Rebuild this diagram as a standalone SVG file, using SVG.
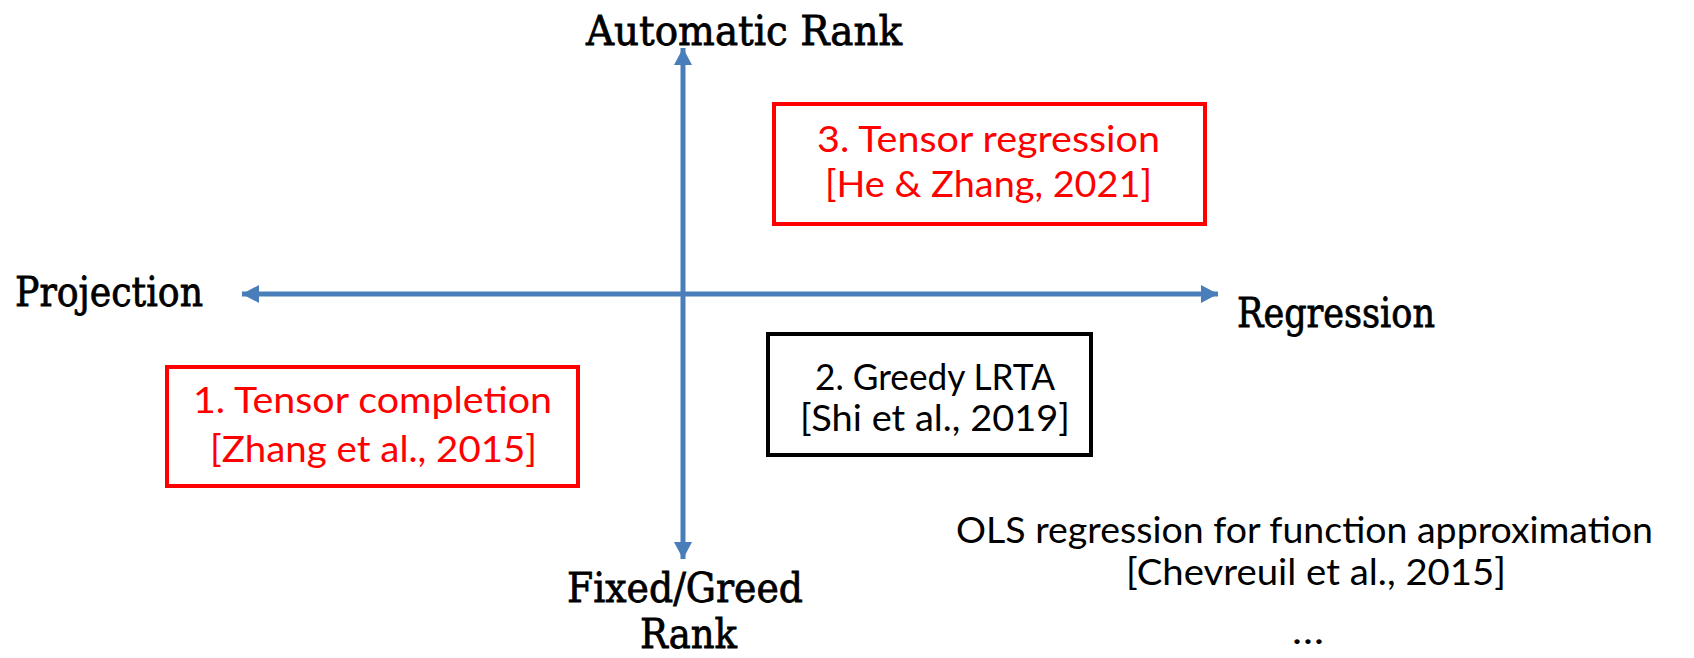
<svg xmlns="http://www.w3.org/2000/svg" width="1694" height="658" viewBox="0 0 1694 658">
  <style>
    .axis-label { font-family: "DejaVu Serif", "Liberation Serif", serif; font-size: 41px; fill: #000; stroke: #000; stroke-width: 0.8; text-anchor: middle; }
    .body { font-family: Lato, "Open Sans", "Liberation Sans", sans-serif; font-size: 37px; text-anchor: middle; }
    .red { fill: #FF0000; }
    .black { fill: #000; }
    .box { fill: none; stroke-width: 4; }
    .box-red { stroke: #FF0000; }
    .box-black { stroke: #000; }
    .axis { stroke: #4A7EBB; stroke-width: 5; fill: none; }
  </style>
  <defs>
    <marker id="head" markerUnits="userSpaceOnUse" markerWidth="17" markerHeight="18" refX="17" refY="9" orient="auto-start-reverse">
      <path d="M0,0 L17,9 L0,18 Z" fill="#4A7EBB"/>
    </marker>
  </defs>
  <rect width="1694" height="658" fill="#fff"/>

  <!-- axes -->
  <g id="connectors">
    <line class="axis" x1="242" y1="294" x2="1218" y2="294" marker-start="url(#head)" marker-end="url(#head)"/>
    <line class="axis" x1="683" y1="48" x2="683" y2="559" marker-start="url(#head)" marker-end="url(#head)"/>
  </g>

  <!-- axis end labels -->
  <g id="label-top">
    <text class="axis-label" x="744" y="45" textLength="316" lengthAdjust="spacingAndGlyphs">Automatic Rank</text>
  </g>
  <g id="label-left">
    <text class="axis-label" x="109" y="306" textLength="188" lengthAdjust="spacingAndGlyphs">Projection</text>
  </g>
  <g id="label-right">
    <text class="axis-label" x="1336" y="327" textLength="198" lengthAdjust="spacingAndGlyphs">Regression</text>
  </g>
  <g id="label-bottom">
    <text class="axis-label" x="685" y="602" textLength="236" lengthAdjust="spacingAndGlyphs">Fixed/Greed</text>
    <text class="axis-label" x="688.5" y="648" textLength="97" lengthAdjust="spacingAndGlyphs">Rank</text>
  </g>

  <!-- quadrant entries -->
  <g id="node-1">
    <rect class="box box-red" x="167" y="367" width="411" height="119"/>
    <text class="body red" x="372.5" y="413" textLength="359" lengthAdjust="spacingAndGlyphs">1. Tensor completion</text>
    <text class="body red" x="373.5" y="462" textLength="327" lengthAdjust="spacingAndGlyphs">[Zhang et al., 2015]</text>
  </g>
  <g id="node-2">
    <rect class="box box-black" x="768" y="334" width="323" height="121"/>
    <text class="body black" x="935" y="390" textLength="240" lengthAdjust="spacingAndGlyphs">2. Greedy LRTA</text>
    <text class="body black" x="935" y="431" textLength="270" lengthAdjust="spacingAndGlyphs">[Shi et al., 2019]</text>
  </g>
  <g id="node-3">
    <rect class="box box-red" x="774" y="104" width="431" height="120"/>
    <text class="body red" x="988.5" y="152" textLength="343" lengthAdjust="spacingAndGlyphs">3. Tensor regression</text>
    <text class="body red" x="988.5" y="197" textLength="327" lengthAdjust="spacingAndGlyphs">[He &amp; Zhang, 2021]</text>
  </g>
  <g id="node-others">
    <text class="body black" x="1304.5" y="543" textLength="697" lengthAdjust="spacingAndGlyphs">OLS regression for function approximation</text>
    <text class="body black" x="1316" y="585" textLength="380" lengthAdjust="spacingAndGlyphs">[Chevreuil et al., 2015]</text>
    <text class="body black" x="1308" y="644" textLength="32" lengthAdjust="spacingAndGlyphs">…</text>
  </g>
</svg>
